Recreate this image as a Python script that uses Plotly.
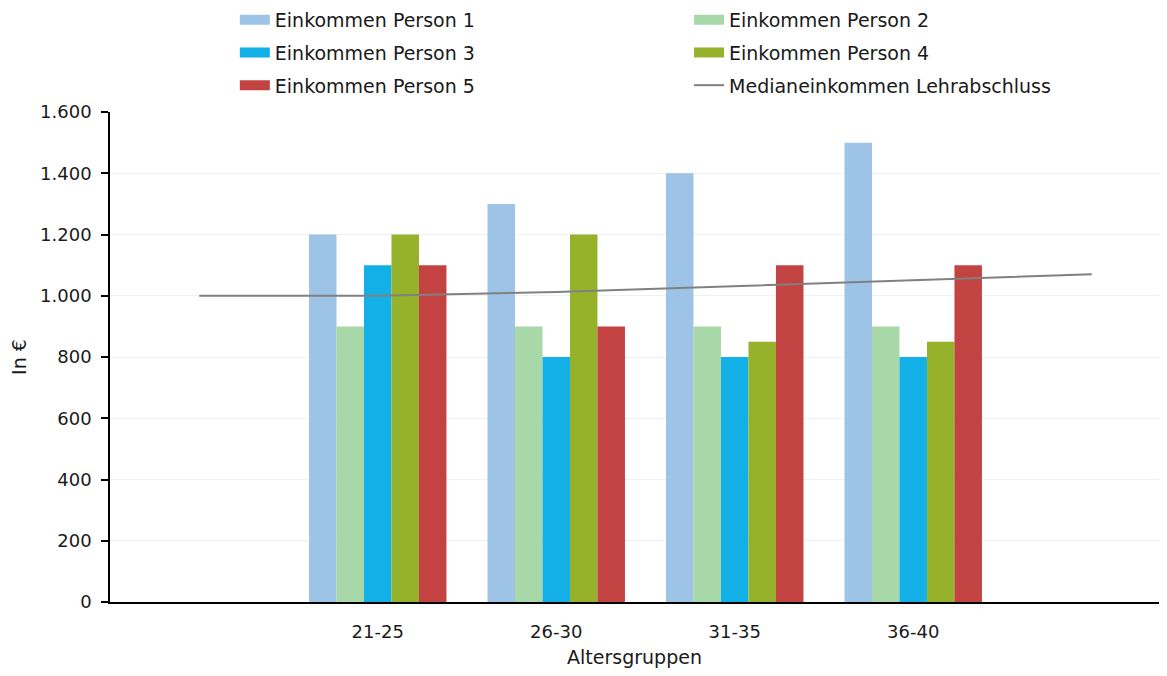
import plotly.graph_objects as go

categories = ["21-25", "26-30", "31-35", "36-40"]
cat_pos = [1, 2, 3, 4]
line_pos = [0, 1, 2, 3, 4, 5]

person1 = [1200, 1300, 1400, 1500]
person2 = [900, 900, 900, 900]
person3 = [1100, 800, 800, 800]
person4 = [1200, 1200, 850, 850]
person5 = [1100, 900, 1100, 1100]
median = [1000, 1000, 1012, 1032, 1052, 1070]

names = ["Einkommen Person 1", "Einkommen Person 2", "Einkommen Person 3",
         "Einkommen Person 4", "Einkommen Person 5"]
colors = ["#9DC3E6", "#A9D8A8", "#12B0E6", "#96B12A", "#C34242"]
series = [person1, person2, person3, person4, person5]
legend_of = ["legend", "legend2", "legend", "legend2", "legend"]

FONT = "DejaVu Sans"
TXT = "#1a1a1a"
fig = go.Figure()
for n, c, s in zip(names, colors, series):
    fig.add_trace(go.Bar(x=cat_pos, y=s, name=n, marker=dict(color=c, line=dict(width=0)),
                         showlegend=False))
fig.add_trace(go.Scatter(x=line_pos, y=median, mode="lines", name="Medianeinkommen Lehrabschluss",
                         line=dict(color="#808080", width=2), showlegend=False))

# legend entries
for n, c, lg in zip(names, colors, legend_of):
    fig.add_trace(go.Scatter(x=[None], y=[None], mode="lines", name=n,
                             line=dict(color=c, width=10), legend=lg, legendgroup=n))
fig.add_trace(go.Scatter(x=[None], y=[None], mode="lines", name="Medianeinkommen Lehrabschluss",
                         line=dict(color="#808080", width=2), legend="legend2",
                         legendgroup="median"))

leg_common = dict(font=dict(family=FONT, size=19, color=TXT), traceorder="grouped",
                  tracegroupgap=5, bgcolor="rgba(0,0,0,0)", yanchor="top", xanchor="left",
                  itemwidth=30)
fig.update_layout(
    width=1151, height=660,
    margin=dict(l=102, r=0, t=104, b=66, autoexpand=False),
    paper_bgcolor="white", plot_bgcolor="white",
    separators=",.",
    barmode="group", bargap=0.23, bargroupgap=0,
    font=dict(family=FONT, size=18, color=TXT),
    legend=dict(x=0.119, y=1.2267, **leg_common),
    legend2=dict(x=0.552, y=1.2267, **leg_common),
    xaxis=dict(range=[-0.5, 5.377], tickvals=cat_pos, ticktext=categories,
               showline=True, linecolor="black", linewidth=1.5, showgrid=False,
               ticks="", zeroline=False, ticklabelstandoff=13, automargin=True,
               title=dict(text="Altersgruppen", font=dict(family=FONT, size=19), standoff=12),
               tickfont=dict(family=FONT, size=18)),
    yaxis=dict(range=[0, 1600], dtick=200, tickformat=",d",
               showline=True, linecolor="black", linewidth=1.5,
               ticks="outside", ticklen=7, tickcolor="black", tickwidth=1.5,
               ticklabelstandoff=6, automargin=False,
               showgrid=True, gridcolor="#F0F0F0", gridwidth=1, zeroline=False,
               title=dict(text="In €", font=dict(family=FONT, size=19), standoff=14),
               tickfont=dict(family=FONT, size=18)),
)
fig.write_html("out.html")
